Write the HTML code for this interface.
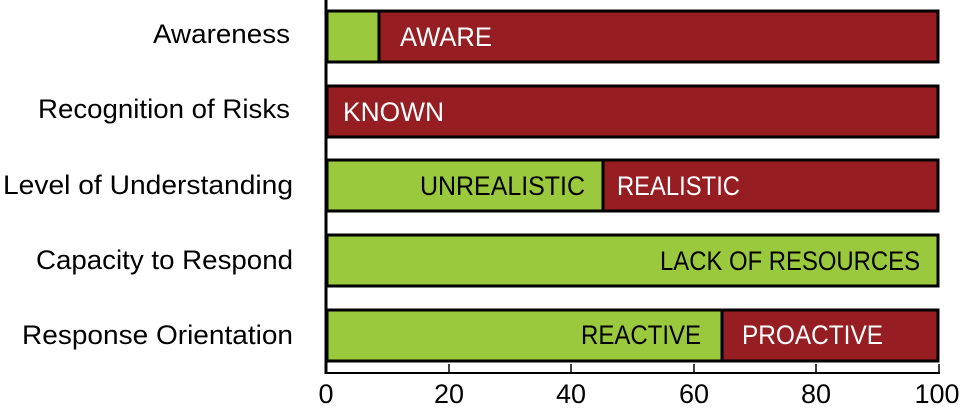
<!DOCTYPE html>
<html><head><meta charset="utf-8"><style>html,body{margin:0;padding:0;background:#fff}svg{display:block}text{font-family:"Liberation Sans",sans-serif;font-size:27px}</style></head><body>
<svg width="961" height="410" viewBox="0 0 961 410">
<g stroke="#000" stroke-width="3">
<rect x="327" y="11" width="52" height="51" fill="#9bc93d"/>
<rect x="379" y="11" width="559" height="51" fill="#961e22"/>
<rect x="327" y="86" width="611" height="51" fill="#961e22"/>
<rect x="327" y="160" width="276" height="51" fill="#9bc93d"/>
<rect x="603" y="160" width="335" height="51" fill="#961e22"/>
<rect x="327" y="235" width="611" height="51" fill="#9bc93d"/>
<rect x="327" y="310" width="395" height="51" fill="#9bc93d"/>
<rect x="722" y="310" width="216" height="51" fill="#961e22"/>
</g>
<line x1="326" y1="0" x2="326" y2="374" stroke="#000" stroke-width="3"/>
<line x1="325" y1="373" x2="940" y2="373" stroke="#000" stroke-width="2"/>
<g stroke="#000" stroke-width="1.5">
<line x1="449" y1="364" x2="449" y2="373"/><line x1="571" y1="364" x2="571" y2="373"/>
<line x1="694" y1="364" x2="694" y2="373"/><line x1="816" y1="364" x2="816" y2="373"/>
<line x1="939" y1="364" x2="939" y2="373"/>
</g>
<g fill="#fff">
<text x="400" y="46" textLength="92" lengthAdjust="spacingAndGlyphs">AWARE</text>
<text x="343" y="121" textLength="101" lengthAdjust="spacingAndGlyphs">KNOWN</text>
<text x="617" y="195" textLength="123" lengthAdjust="spacingAndGlyphs">REALISTIC</text>
<text x="742" y="344" textLength="141" lengthAdjust="spacingAndGlyphs">PROACTIVE</text>
</g>
<g fill="#000">
<text x="420" y="195" textLength="165" lengthAdjust="spacingAndGlyphs">UNREALISTIC</text>
<text x="660" y="270" textLength="260" lengthAdjust="spacingAndGlyphs">LACK OF RESOURCES</text>
<text x="581" y="344" textLength="120" lengthAdjust="spacingAndGlyphs">REACTIVE</text>
<text x="153" y="43" textLength="137" lengthAdjust="spacingAndGlyphs">Awareness</text>
<text x="38" y="118" textLength="252" lengthAdjust="spacingAndGlyphs">Recognition of Risks</text>
<text x="3" y="194" textLength="290" lengthAdjust="spacingAndGlyphs">Level of Understanding</text>
<text x="36" y="269" textLength="257" lengthAdjust="spacingAndGlyphs">Capacity to Respond</text>
<text x="22" y="344" textLength="271" lengthAdjust="spacingAndGlyphs">Response Orientation</text>
<g text-anchor="middle">
<text x="326" y="403">0</text><text x="449" y="403">20</text><text x="571" y="403">40</text>
<text x="694" y="403">60</text><text x="816" y="403">80</text><text x="937" y="403">100</text>
</g>
</g>
</svg>
</body></html>
